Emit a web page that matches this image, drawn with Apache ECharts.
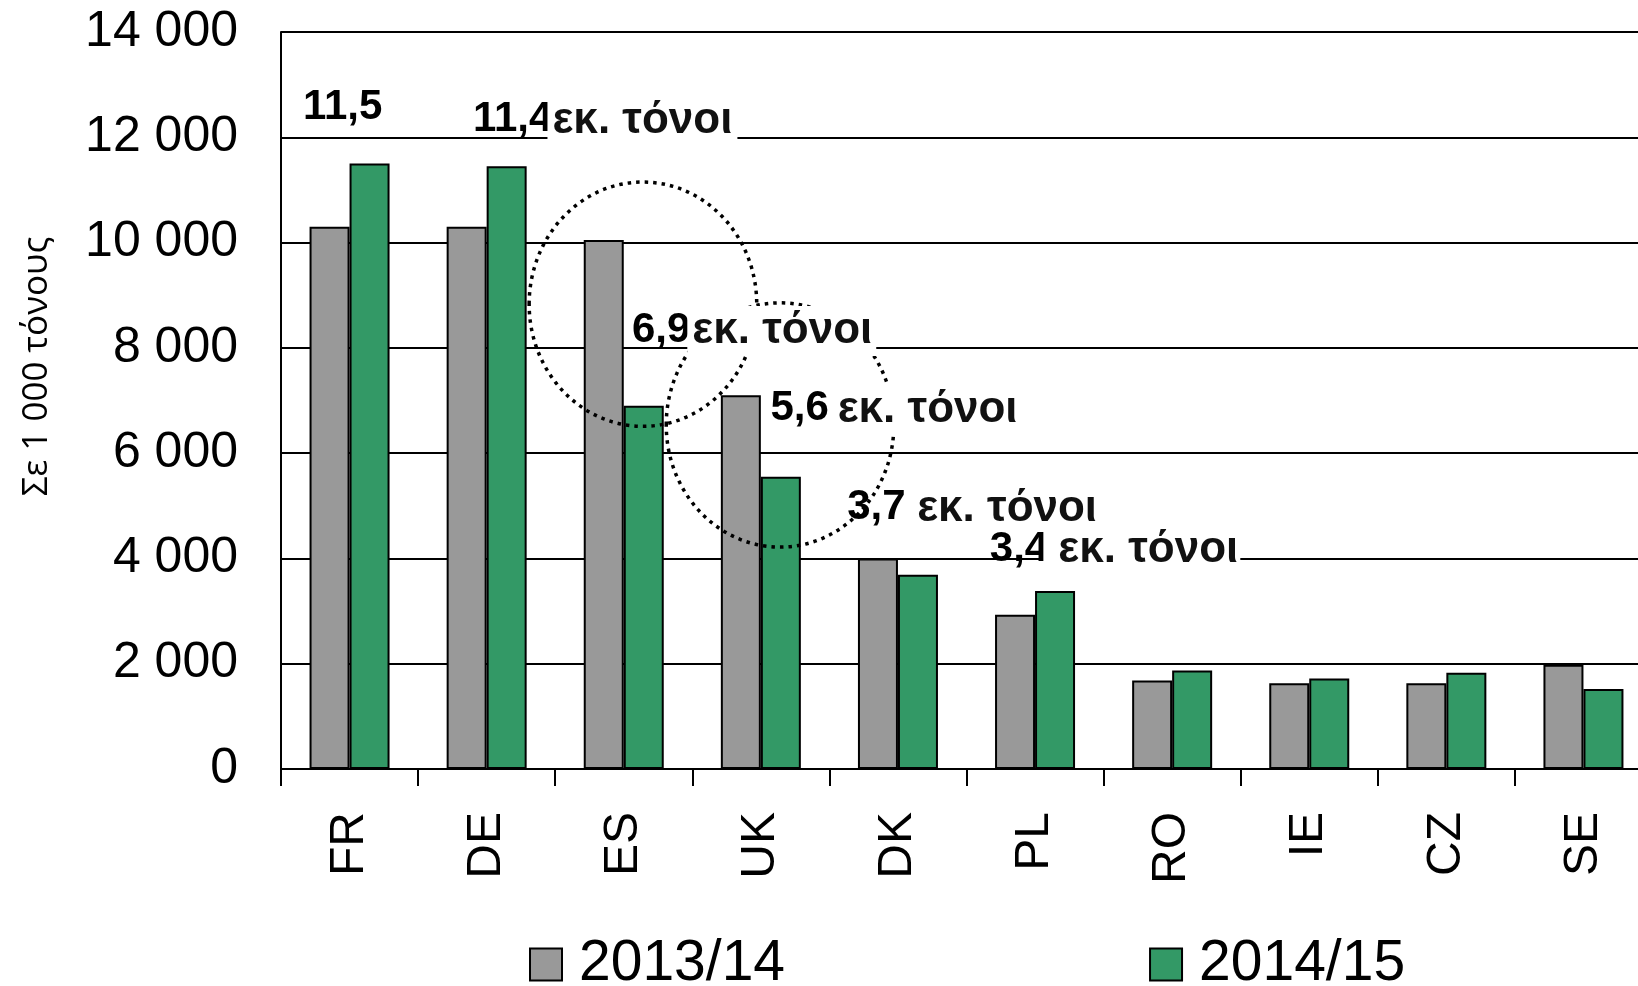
<!DOCTYPE html>
<html>
<head>
<meta charset="utf-8">
<script src="https://cdn.jsdelivr.net/npm/echarts@6/dist/echarts.min.js"></script>
<style>
  html, body { margin: 0; padding: 0; background: #fff; }
  #main { width: 1638px; height: 986px; }
</style>
</head>
<body>
<div id="main"></div>
<script>
// production per country, thousand tonnes
const countries = ['FR', 'DE', 'ES', 'UK', 'DK', 'PL', 'RO', 'IE', 'CZ', 'SE'];
const seasons = ['2013/14', '2014/15'];
const prod1314 = [10300, 10300, 10050, 7100, 4000, 2930, 1680, 1630, 1630, 1980];
const prod1415 = [11500, 11450, 6900, 5550, 3690, 3380, 1870, 1720, 1830, 1520];
const yTicks = [0, 2000, 4000, 6000, 8000, 10000, 12000, 14000];

// callout texts (number part, unit part)
const noteNums = ['11,5', '11,4', '6,9', '5,6', '3,7', '3,4'];
const noteUnits = ['', 'εκ. τόνοι', 'εκ. τόνοι', 'εκ. τόνοι', 'εκ. τόνοι', 'εκ. τόνοι'];

// where the callouts sit: [category position, value] for number and unit
const noteNumPos = [[-0.34, 12560], [0.90, 12330], [2.06, 8340], [3.07, 6850], [3.63, 4960], [4.67, 4180]];
const noteUnitPos = [null, [1.48, 12330], [2.50, 8340], [3.56, 6850], [4.14, 4960], [5.17, 4180]];
const unitPad = [null, [3, 5, 3, 5], [3, 4, 3, 5], [3, 10, 3, 8], [0, 0, 0, 0], [3, 2, 3, 15]];
// dotted rings: [category center, value center, category radius, value radius]
const rings = [[2.14, 8830, 0.83, 2320], [3.14, 6535, 0.83, 2320]];

const font = 'Liberation Sans, Arial, sans-serif';

function fmtThousands(v) {
  return String(v).replace(/\B(?=(\d{3})+(?!\d))/g, ' ');
}

let chart = echarts.init(document.getElementById('main'));

let options = {
  animation: false,
  backgroundColor: '#ffffff',
  grid: {
    left: 281,
    top: 32,
    width: 1371,
    height: 737,
    outerBoundsMode: 'none'
  },
  legend: {
    data: seasons,
    icon: 'rect',
    left: 524,
    top: 931,
    itemWidth: 32,
    itemHeight: 32,
    itemGap: 364,
    textStyle: {
      fontFamily: font,
      fontSize: 57,
      color: '#000',
      padding: [0, 0, 0, 12]
    }
  },
  xAxis: {
    type: 'category',
    data: countries,
    axisLine: { lineStyle: { color: '#000', width: 2 } },
    axisTick: { show: true, alignWithLabel: false, length: 17, lineStyle: { color: '#000', width: 2 } },
    axisLabel: {
      rotate: 90,
      margin: 43,
      fontFamily: font,
      fontSize: 48,
      color: '#000'
    }
  },
  yAxis: {
    type: 'value',
    min: yTicks[0],
    max: yTicks[yTicks.length - 1],
    interval: 2000,
    name: 'Σε 1 000 τόνους',
    nameLocation: 'middle',
    nameRotate: 90,
    nameGap: 226,
    nameTextStyle: {
      fontFamily: 'Open Sans, Noto Sans, sans-serif',
      fontSize: 35,
      color: '#000',
      padding: [0, 0, 0, 68]
    },
    axisLine: { show: true, lineStyle: { color: '#000', width: 2 } },
    axisTick: { show: false },
    splitLine: { lineStyle: { color: '#000', width: 2 } },
    axisLabel: {
      margin: 43,
      fontFamily: font,
      fontSize: 50,
      color: '#000',
      formatter: fmtThousands
    }
  },
  series: [
    {
      name: seasons[0],
      type: 'bar',
      data: prod1314,
      barWidth: 40,
      barGap: '0%',
      itemStyle: { color: '#999999', borderColor: '#000', borderWidth: 2 }
    },
    {
      name: seasons[1],
      type: 'bar',
      data: prod1415,
      barWidth: 40,
      itemStyle: { color: '#339966', borderColor: '#000', borderWidth: 2 }
    }
  ]
};

chart.setOption(options);

// map [category position, value] to pixels
function place(c, v) {
  let a = chart.convertToPixel({ gridIndex: 0 }, [0, v]);
  let b = chart.convertToPixel({ gridIndex: 0 }, [1, v]);
  return [a[0] + c * (b[0] - a[0]), a[1]];
}

function catStep() {
  let a = chart.convertToPixel({ gridIndex: 0 }, [0, 0]);
  let b = chart.convertToPixel({ gridIndex: 0 }, [1, 0]);
  return b[0] - a[0];
}

function valStep(dv) {
  let a = chart.convertToPixel({ gridIndex: 0 }, [0, 0]);
  let b = chart.convertToPixel({ gridIndex: 0 }, [0, dv]);
  return a[1] - b[1];
}

let graphics = [];

for (let i = 0; i < noteNums.length; i++) {
  let p = place(noteNumPos[i][0], noteNumPos[i][1]);
  graphics.push({
    type: 'text',
    x: p[0],
    y: p[1],
    z: 40,
    style: {
      text: noteNums[i],
      font: 'bold 42px ' + font,
      fill: '#000',
      align: 'left',
      verticalAlign: 'middle'
    }
  });
  if (noteUnits[i]) {
    let q = place(noteUnitPos[i][0], noteUnitPos[i][1]);
    let pad = unitPad[i];
    graphics.push({
      type: 'text',
      x: q[0] - pad[3],
      y: q[1] + 1,
      z: 60,
      style: {
        text: noteUnits[i],
        font: 'bold 44px ' + font,
        fill: '#111',
        align: 'left',
        verticalAlign: 'middle',
        backgroundColor: i === 4 ? 'transparent' : '#ffffff',
        padding: pad
      }
    });
  }
}

for (let r of rings) {
  let c = place(r[0], r[1]);
  graphics.push({
    type: 'ellipse',
    z: 50,
    shape: { cx: c[0], cy: c[1], rx: r[2] * catStep(), ry: valStep(r[3]) },
    style: { fill: 'none', stroke: '#000', lineWidth: 3.5, lineDash: [3.5, 5] }
  });
}

chart.setOption({ graphic: graphics });
</script>
</body>
</html>
